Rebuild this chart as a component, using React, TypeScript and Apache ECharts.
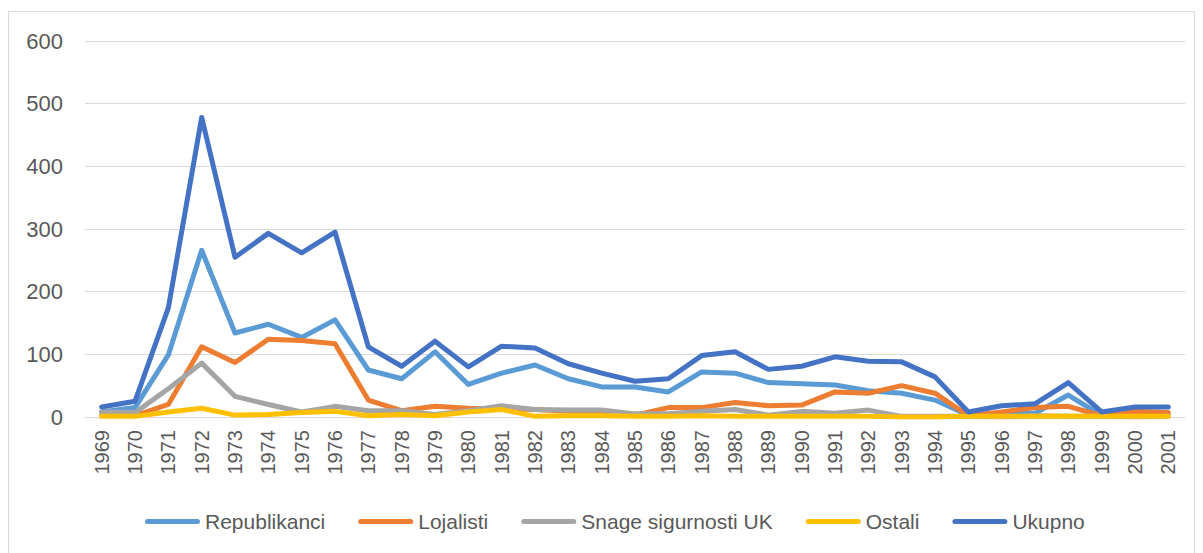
import React, { useEffect, useRef } from "react";
import * as echarts from "echarts";

const years = [
  "1969","1970","1971","1972","1973","1974","1975","1976","1977","1978","1979",
  "1980","1981","1982","1983","1984","1985","1986","1987","1988","1989","1990",
  "1991","1992","1993","1994","1995","1996","1997","1998","1999","2000","2001",
];

const republikanci = [8, 15, 99, 266, 134, 148, 127, 155, 75, 61, 104, 52, 70, 83, 61, 48, 48, 40, 72, 70, 55, 53, 51, 42, 38, 27, 3, 6, 6, 35, 2, 5, 3];
const lojalisti = [3, 2, 20, 112, 87, 124, 122, 117, 27, 10, 17, 14, 13, 12, 9, 9, 3, 15, 15, 23, 18, 19, 40, 38, 50, 38, 2, 8, 15, 17, 2, 9, 7];
const snage = [8, 7, 45, 86, 33, 20, 8, 17, 10, 10, 4, 10, 18, 12, 11, 11, 5, 5, 9, 12, 3, 9, 6, 11, 1, 1, 1, 0, 2, 1, 1, 0, 1];
const ostali = [1, 1, 8, 14, 3, 4, 7, 9, 2, 4, 2, 8, 12, 1, 2, 2, 1, 1, 2, 1, 1, 1, 1, 1, 0, 0, 1, 1, 1, 1, 1, 1, 1];
const ukupno = [16, 25, 174, 478, 255, 293, 262, 295, 112, 81, 121, 80, 113, 110, 85, 70, 57, 61, 98, 104, 76, 81, 96, 89, 88, 64, 8, 18, 21, 55, 8, 16, 16];

const seriesNames = ["Republikanci", "Lojalisti", "Snage sigurnosti UK", "Ostali", "Ukupno"];
const seriesData = [republikanci, lojalisti, snage, ostali, ukupno];
const colors = ["#5B9BD5", "#ED7D31", "#A5A5A5", "#FFC000", "#4472C4"];

const FONT = "'Liberation Sans', Arial, sans-serif";
const LEGEND_ICON =
  "path://M0,2.5A2.5,2.5,0,0,1,2.5,0H52.5A2.5,2.5,0,0,1,52.5,5H2.5A2.5,2.5,0,0,1,0,2.5Z";

export default function App() {
  const ref = useRef<HTMLDivElement>(null);
  useEffect(() => {
    if (!ref.current) return;
    const chart = echarts.init(ref.current, undefined, { renderer: "svg" });
    chart.setOption({
      animation: false,
      textStyle: { fontFamily: FONT },
      graphic: [
        {
          type: "rect",
          shape: { x: 0.5, y: 3.5, width: 1186, height: 560 },
          style: { fill: "none", stroke: "#D9D9D9", lineWidth: 1 },
          silent: true,
        },
      ],
      grid: { left: 77, right: 10, top: 33, height: 376 },
      legend: {
        left: 132,
        top: 498,
        itemWidth: 55,
        itemHeight: 5,
        itemGap: 33,
        icon: LEGEND_ICON,
        textStyle: { fontFamily: FONT, fontSize: 21, color: "#595959" },
        data: seriesNames,
      },
      xAxis: {
        type: "category",
        data: years,
        boundaryGap: true,
        axisLine: { lineStyle: { color: "#D9D9D9", width: 1 } },
        axisTick: { show: false },
        axisLabel: {
          rotate: 90,
          interval: 0,
          margin: 13,
          fontFamily: FONT,
          fontSize: 20,
          color: "#595959",
        },
      },
      yAxis: {
        type: "value",
        min: 0,
        max: 600,
        interval: 100,
        axisLine: { show: false },
        axisTick: { show: false },
        splitLine: { lineStyle: { color: "#D9D9D9", width: 1 } },
        axisLabel: { margin: 22, fontFamily: FONT, fontSize: 22, color: "#595959" },
      },
      series: seriesNames.map((name, i) => ({
        name,
        type: "line",
        data: seriesData[i],
        symbol: "none",
        showSymbol: false,
        color: colors[i],
        itemStyle: { color: colors[i] },
        lineStyle: { width: 5, color: colors[i], cap: "round", join: "round" },
        z: 2 + i,
      })),
    });
    return () => chart.dispose();
  }, []);
  return <div ref={ref} style={{ width: 1187, height: 545 }} />;
}
